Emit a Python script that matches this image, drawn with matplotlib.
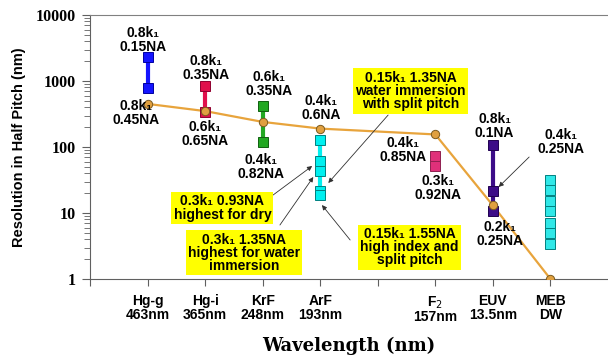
import matplotlib
matplotlib.use('Agg')
import matplotlib.pyplot as plt
from matplotlib.ticker import FixedLocator, LogLocator, NullFormatter

# Data
tick_pos = [0, 1, 2, 3, 4, 5, 6, 7, 8]
tick_labels = ['', 'Hg-g\n463nm', 'Hg-i\n365nm', 'KrF\n248nm', 'ArF\n193nm', '',
               'F$_2$\n157nm', 'EUV\n13.5nm', 'MEB\nDW']

trend_x = [1, 2, 3, 4, 6, 7, 8]
trend_vals = [450, 350, 240, 190, 155, 13, 1]

hgg_vals = [2325, 775]
hgi_vals = [834, 337]
krf_vals = [425, 121]
arf_vals = [129, 62, 43, 21.4, 18.7]
f2_vals = [74, 51]
euv_vals = [108, 21.6, 10.8]
meb_vals = [32, 22.6, 15, 10.6, 7.0, 5.0, 3.4]

bars = [
    (1, hgg_vals, '#1414ff', '#0000a0'),
    (2, hgi_vals, '#e0104c', '#900030'),
    (3, krf_vals, '#22a822', '#106010'),
    (4, arf_vals, '#00f0f0', '#008080'),
    (6, f2_vals, '#e0307a', '#902050'),
    (7, euv_vals, '#3c0c88', '#200050'),
]

SANS = ['Liberation Sans', 'DejaVu Sans']
SERIF = ['Liberation Serif', 'DejaVu Serif']
FS = 10

fig = plt.figure(figsize=(6.08, 3.56), dpi=100)
ax = fig.add_axes([90 / 608, 77 / 356, 518 / 608, 264 / 356])
ax.set_yscale('log')
ax.set_xlim(0, 9)
ax.set_ylim(1, 10000)

# trend line
ax.plot(trend_x, trend_vals, '-', color='#e8a43c', linewidth=1.6, zorder=3)
ax.plot(trend_x, trend_vals, 'o', markersize=6, markerfacecolor='#e0a040',
        markeredgecolor='#7a5a20', markeredgewidth=0.7, zorder=5)

# resolution bars
for x, vals, col, edge in bars:
    ax.plot([x, x], [max(vals), min(vals)], '-', color=col, linewidth=3.0, zorder=4)
    ax.plot([x] * len(vals), vals, 's', color=col, markersize=6.5,
            markeredgecolor=edge, markeredgewidth=0.7, zorder=4)

# MEB direct write points
ax.plot([8] * len(meb_vals), meb_vals, 's', color='#30e8e8', markersize=6.5,
        markeredgecolor='#008080', markeredgewidth=0.7, zorder=4)

# k1 / NA labels
k = 'k\u2081'
labels = [
    (0.92, 4170, '0.8' + k + '\n0.15NA'),
    (0.80, 327, '0.8' + k + '\n0.45NA'),
    (2.02, 1574, '0.8' + k + '\n0.35NA'),
    (2.00, 157, '0.6' + k + '\n0.65NA'),
    (3.11, 901, '0.6' + k + '\n0.35NA'),
    (2.97, 49.8, '0.4' + k + '\n0.82NA'),
    (4.02, 390, '0.4' + k + '\n0.6NA'),
    (5.44, 90, '0.4' + k + '\n0.85NA'),
    (6.05, 23.9, '0.3' + k + '\n0.92NA'),
    (7.03, 208, '0.8' + k + '\n0.1NA'),
    (8.19, 119, '0.4' + k + '\n0.25NA'),
    (7.13, 4.8, '0.2' + k + '\n0.25NA'),
]
for x, y, s in labels:
    ax.text(x, y, s, ha='center', va='center', fontsize=FS, fontweight='bold',
            family=SANS, linespacing=0.95, zorder=6)

# yellow call-out boxes
boxes = [
    (5.57, 705, '0.15' + k + ' 1.35NA\nwater immersion\nwith split pitch'),
    (2.30, 11.9, '0.3' + k + ' 0.93NA\nhighest for dry'),
    (2.68, 2.48, '0.3' + k + ' 1.35NA\nhighest for water\nimmersion'),
    (5.55, 3.05, '0.15' + k + ' 1.55NA\nhigh index and\nsplit pitch'),
]
for x, y, s in boxes:
    ax.text(x, y, s, ha='center', va='center', fontsize=FS, fontweight='bold',
            family=SANS, linespacing=0.95, zorder=7,
            bbox=dict(boxstyle='square,pad=0.15', facecolor='#ffff00', edgecolor='none'))

# arrows from call-outs
arrows = [
    ((3.18, 18.7), (3.86, 51.5)),
    ((3.30, 6.58), (3.88, 35.1)),
    ((5.18, 305), (4.14, 28.5)),
    ((4.52, 3.9), (4.03, 13.2)),
    ((7.63, 70.5), (7.10, 24.8)),
]
for start, end in arrows:
    ax.annotate('', xy=end, xytext=start, zorder=6,
                arrowprops=dict(arrowstyle='-|>', color='#303030', lw=0.6,
                                mutation_scale=7, shrinkA=0, shrinkB=0))

# axes styling
ax.spines['right'].set_visible(False)
ax.spines['top'].set_color('#808080')
ax.spines['left'].set_color('#606060')
ax.spines['bottom'].set_color('#606060')

ax.xaxis.set_major_locator(FixedLocator(tick_pos))
ax.set_xticklabels(tick_labels, fontsize=FS, fontweight='bold', family=SANS, linespacing=0.95)
ax.tick_params(axis='x', direction='out', length=5, color='#606060', pad=6)

ax.yaxis.set_major_locator(FixedLocator([1, 10, 100, 1000, 10000]))
ax.set_yticklabels(['1', '10', '100', '1000', '10000'], fontsize=11.5,
                   fontweight='bold', family=SERIF)
ax.yaxis.set_minor_locator(LogLocator(base=10, subs=range(2, 10)))
ax.yaxis.set_minor_formatter(NullFormatter())
ax.tick_params(axis='y', which='major', direction='out', length=6, color='#606060', pad=4)
ax.tick_params(axis='y', which='minor', direction='out', length=4, color='#606060')

ax.set_ylabel('Resolution in Half Pitch (nm)', fontsize=10.5, fontweight='bold',
              family=SANS, labelpad=7)
ax.set_xlabel('Wavelength (nm)', fontsize=13, fontweight='bold',
              family=['DejaVu Serif'], labelpad=9)

fig.savefig('out.png', dpi=100)
